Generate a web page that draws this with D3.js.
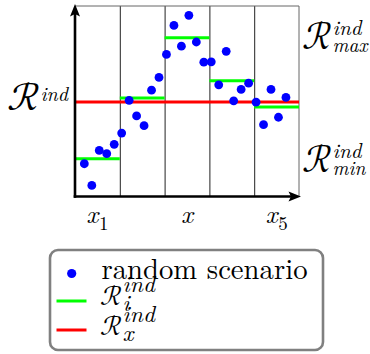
<!DOCTYPE html>
<html>
<head>
<meta charset="utf-8">
<script src="https://cdn.jsdelivr.net/npm/d3@7"></script>
<style>
  html, body { margin: 0; padding: 0; background: #fff; }
  svg { display: block; }
</style>
</head>
<body>
<svg id="chart" width="370" height="354"></svg>
<script>
// Scenario positions along x and their values
const scenarioX = [1.25, 2.25, 3.25, 4.25, 5.25, 6.25, 7.25, 8.25, 9.25, 10.25,
                   11.25, 12.25, 13.25, 14.25, 15.25, 16.25, 17.25, 18.25, 19.25, 20.25,
                   21.25, 22.25, 23.25, 24.25, 25.25, 26.25, 27.25, 28.25];
const scenarioY = [17.2, 5.8, 24.2, 22.5, 27.4, 33.3, 50.5, 42.3, 37.2, 55.8,
                   62.5, 74.6, 89.8, 78.9, 95.1, 81.1, 70.5, 70.7, 58.6, 76.2,
                   50.2, 56.2, 59.5, 49.5, 37.7, 56.2, 41.6, 52.0];

// Interval boundaries and the level of each interval
const panelEdges = [0, 6, 12, 18, 24, 30];
const panelLevels = [19.8, 51.7, 83.3, 60.7, 47.0];
const overallLevel = 49.6;

// Tick labels under the x axis
const xTickPos = [3, 15, 27];
const xTickMain = ["x", "x", "x"];
const xTickSub = ["1", "", "5"];

// Legend entries
const legendText = "random scenario";
const legendSubs = ["i", "x"];

const BLUE = "#0000ff", GREEN = "#00ff00", RED = "#ff0000";
const ROMAN = '"Latin Modern Roman", "Liberation Serif", serif';
const MATHCAL = '"Latin Modern Math", "STIX Two Math", "DejaVu Serif", serif';

const svg = d3.select("#chart");
const x = d3.scaleLinear().domain([0, 30]).range([75, 299]);
const y = d3.scaleLinear().domain([0, 100]).range([196.5, 6]);

// Interval dividers drawn as full-height ticks
const divAxis = d3.axisBottom(x)
  .tickValues(panelEdges.slice(1, -1))
  .tickSize(-(y(0) - y(100)))
  .tickFormat("");
svg.append("g")
  .attr("transform", `translate(0,${y(0)})`)
  .call(divAxis)
  .call(g => g.select(".domain").remove())
  .selectAll("line")
  .attr("stroke", "#222")
  .attr("stroke-width", 1);

// Thin frame on top and right
svg.append("line")
  .attr("x1", x(0)).attr("x2", x(30)).attr("y1", y(100)).attr("y2", y(100))
  .attr("stroke", "#666").attr("stroke-width", 1);
svg.append("line")
  .attr("x1", x(30)).attr("x2", x(30)).attr("y1", y(100)).attr("y2", y(0))
  .attr("stroke", "#666").attr("stroke-width", 1);

// Overall level
svg.append("line")
  .attr("x1", x(0)).attr("x2", x(30))
  .attr("y1", y(overallLevel)).attr("y2", y(overallLevel))
  .attr("stroke", RED).attr("stroke-width", 3);

// Per-interval levels
svg.append("g").selectAll("line")
  .data(panelLevels)
  .join("line")
  .attr("x1", (d, i) => x(panelEdges[i]))
  .attr("x2", (d, i) => x(panelEdges[i + 1]))
  .attr("y1", d => y(d)).attr("y2", d => y(d))
  .attr("stroke", GREEN).attr("stroke-width", 3);

// Scenarios
svg.append("g").selectAll("circle")
  .data(scenarioX.map((v, i) => [v, scenarioY[i]]))
  .join("circle")
  .attr("cx", d => x(d[0]))
  .attr("cy", d => y(d[1]))
  .attr("r", 4.4)
  .attr("fill", BLUE);

// Axes with arrow heads
const x0 = x(0), yb = y(0);
svg.append("line")
  .attr("x1", x0).attr("x2", x0).attr("y1", yb + 1.3).attr("y2", 12)
  .attr("stroke", "#000").attr("stroke-width", 2.6);
svg.append("line")
  .attr("x1", x0 - 1.3).attr("x2", 294).attr("y1", yb).attr("y2", yb)
  .attr("stroke", "#000").attr("stroke-width", 2.6);
svg.append("path")
  .attr("d", `M${x0},4 L${x0 + 5},16.5 L${x0},14 L${x0 - 5},16.5 Z`)
  .attr("fill", "#000");
svg.append("path")
  .attr("d", `M301,${yb} L288.5,${yb - 5} L291,${yb} L288.5,${yb + 5} Z`)
  .attr("fill", "#000");

// Calligraphic R with an italic superscript and optional subscript
function mathR(px, py, o) {
  const g = svg.append("g");
  g.append("text")
    .style("font-family", MATHCAL).style("font-size", o.size + "px")
    .attr("textLength", o.rw).attr("lengthAdjust", "spacingAndGlyphs")
    .text("ℛ");
  const w = o.rw;
  const t1 = g.append("text")
    .attr("x", w + 0.5).attr("y", -o.up)
    .style("font-family", ROMAN).style("font-style", "italic")
    .style("font-size", o.sup + "px")
    .text("ind");
  let wt = t1.node().getComputedTextLength();
  if (o.subText) {
    const t2 = g.append("text")
      .attr("x", w + 0.5).attr("y", o.down)
      .style("font-family", ROMAN).style("font-style", "italic")
      .style("font-size", o.sub + "px")
      .text(o.subText);
    wt = Math.max(wt, t2.node().getComputedTextLength());
  }
  const total = w + 0.5 + wt;
  g.attr("transform", `translate(${o.anchor === "end" ? px - total : px},${py})`);
}

mathR(68, 110, { size: 38, rw: 33, sup: 20, up: 9, anchor: "end" });
mathR(302, 49, { size: 39, rw: 30, sup: 21, up: 14, sub: 19.5, down: 3, subText: "max" });
mathR(302, 172, { size: 39, rw: 30, sup: 21, up: 14, sub: 19.5, down: 3, subText: "min" });

// x tick labels
xTickPos.forEach((p, i) => {
  const g = svg.append("g");
  const m = g.append("text")
    .style("font-family", ROMAN).style("font-style", "italic")
    .style("font-size", "26px").text(xTickMain[i]);
  const wm = m.node().getComputedTextLength();
  let ws = 0;
  if (xTickSub[i]) {
    const s = g.append("text")
      .attr("x", wm + 0.5).attr("y", 7)
      .style("font-family", ROMAN).style("font-size", "19px")
      .text(xTickSub[i]);
    ws = s.node().getComputedTextLength() + 0.5;
  }
  g.attr("transform", `translate(${x(p) - (wm + ws) / 2},223)`);
});

// Legend
svg.append("rect")
  .attr("x", 50).attr("y", 250).attr("width", 273).attr("height", 100)
  .attr("rx", 8).attr("ry", 8)
  .attr("fill", "#fff").attr("stroke", "#808080").attr("stroke-width", 2.6);
svg.append("circle")
  .attr("cx", 71.7).attr("cy", 273.5).attr("r", 4.6).attr("fill", BLUE);
svg.append("text")
  .attr("x", 101.5).attr("y", 279)
  .style("font-family", ROMAN).style("font-size", "28.7px")
  .attr("textLength", 206).attr("lengthAdjust", "spacingAndGlyphs")
  .text(legendText);
[GREEN, RED].forEach((c, i) => {
  const ly = [301, 330][i];
  svg.append("line")
    .attr("x1", 56.5).attr("x2", 86.5).attr("y1", ly).attr("y2", ly)
    .attr("stroke", c).attr("stroke-width", 3);
  mathR(100, [305, 335][i], { size: 28, rw: 22, sup: 23.5, up: 13, sub: 23.5, down: 5.5, subText: legendSubs[i] });
});
</script>
</body>
</html>
